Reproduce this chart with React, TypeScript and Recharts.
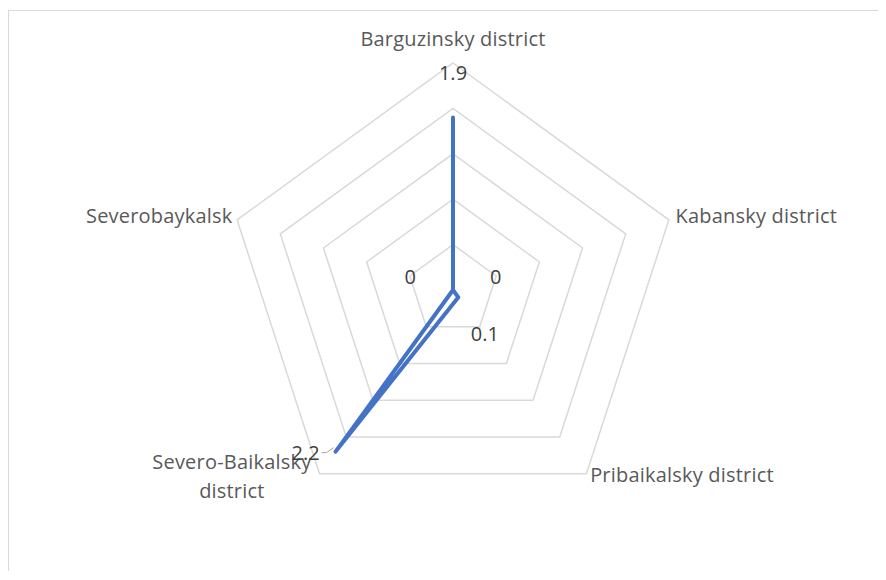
import React from 'react';
import { PolarAngleAxis, PolarGrid, PolarRadiusAxis, Radar, RadarChart } from 'recharts';

// Districts and values
const districts = [
  'Barguzinsky district',
  'Kabansky district',
  'Pribaikalsky district',
  'Severo-Baikalsky district',
  'Severobaykalsk',
];
const values = [1.9, 0, 0.1, 2.2, 0];
const radiusTicks = [0, 0.5, 1, 1.5, 2, 2.5];

const data = districts.map((name, i) => ({ name, value: values[i] }));

const CX = 444;
const CY = 279;
const OUTER = 227; // radius of the outer grid ring (2.5)
// recharts rounds the radius domain up to 3 here, so the chart radius is stretched
// so that the 2.5 ring lands on OUTER
const NICE_MAX = 3;
const CHART_R = (OUTER * NICE_MAX) / radiusTicks[radiusTicks.length - 1];
const FONT = '"Open Sans", "Noto Sans", sans-serif';
const FS = 20;

const dirOf = (index: number) => {
  const deg = 90 - (index * 360) / districts.length;
  const rad = (deg * Math.PI) / 180;
  return { dx: Math.cos(rad), dy: -Math.sin(rad) };
};

const AngleTick = (props: any) => {
  const { payload, index } = props;
  const label: string = payload.value;
  const { dx, dy } = dirOf(index);
  const x = CX + (OUTER + 8) * dx;
  const y = CY + (OUTER + 8) * dy;
  const color = '#595959';
  const common = { fill: color, fontSize: FS, fontFamily: FONT, letterSpacing: 0.2 };
  if (index === 0) {
    return (
      <text x={x} y={y - 17} textAnchor="middle" dominantBaseline="central" {...common}>
        {label}
      </text>
    );
  }
  if (label === 'Severo-Baikalsky district') {
    return (
      <text textAnchor="middle" {...common}>
        <tspan x={x - 83} y={y - 19} dominantBaseline="central">Severo-Baikalsky</tspan>
        <tspan x={x - 83} y={y + 10} dominantBaseline="central">district</tspan>
      </text>
    );
  }
  const anchor = x > CX ? 'start' : 'end';
  const oy = index === 2 ? -6 : -2;
  return (
    <text x={x + (anchor === 'start' ? -1 : 3)} y={y + oy} textAnchor={anchor} dominantBaseline="central" {...common}>
      {label}
    </text>
  );
};

const ValueLabel = (props: any) => {
  const { cx, cy, index } = props;
  if (cx == null || cy == null) return null;
  const { dx, dy } = dirOf(index);
  const off = 45;
  const r = Math.hypot(cx - CX, cy - CY);
  const text = values[index];
  const common = { fill: '#404040', fontSize: FS, fontFamily: FONT };
  if (r + off > OUTER) {
    // pulled inside with a leader line, like Excel does
    return (
      <g>
        <polyline points={`${cx - 2},${cy - 4} ${cx - 9},${cy + 1} ${cx - 14},${cy + 1}`} fill="none" stroke="#a6a6a6" strokeWidth={1} />
        <text x={cx - 30} y={cy + 1} textAnchor="middle" dominantBaseline="central" {...common}>
          {text}
        </text>
      </g>
    );
  }
  return (
    <text x={cx + off * dx} y={cy + off * dy} textAnchor="middle" dominantBaseline="central" {...common}>
      {text}
    </text>
  );
};

export default function App() {
  return (
    <div
      style={{
        width: 878,
        height: 560,
        marginTop: 2,
        borderTop: '1px solid #d9d9d9',
        borderLeft: '1px solid #d9d9d9',
        background: '#fff',
        overflow: 'hidden',
      }}
    >
      <RadarChart width={877} height={559} data={data} cx={CX} cy={CY} outerRadius={CHART_R} startAngle={90} endAngle={-270}>
        <PolarRadiusAxis
          type="number"
          domain={[radiusTicks[0], radiusTicks[radiusTicks.length - 1]]}
          ticks={radiusTicks as any}
          tickCount={radiusTicks.length}
          tick={false}
          axisLine={false}
        />
        <PolarGrid gridType="polygon" radialLines={false} stroke="#d9d9d9" strokeWidth={1.5} />
        <PolarAngleAxis dataKey="name" tick={<AngleTick />} tickLine={false} axisLine={false} />
        <Radar
          dataKey="value"
          stroke="#4472C4"
          strokeWidth={4}
          strokeLinejoin="round"
          fill="none"
          fillOpacity={0}
          dot={<ValueLabel />}
          isAnimationActive={false}
        />
      </RadarChart>
    </div>
  );
}
